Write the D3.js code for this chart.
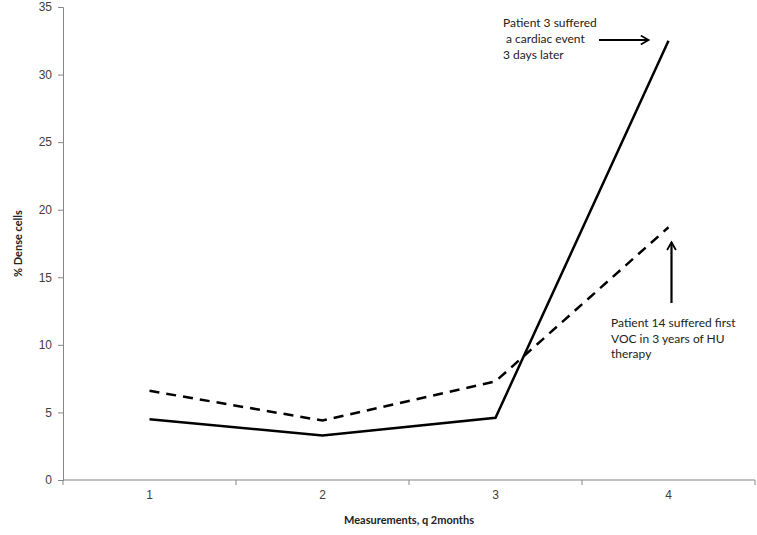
<!DOCTYPE html>
<html lang="en">
<head>
  <meta charset="UTF-8">
  <title>% Dense cells</title>
  <script src="https://d3js.org/d3.v7.min.js"></script>
  <style>
    body { margin: 0; background: #fff; }
    svg { font-family: Lato, "Open Sans", sans-serif; }
    .axis path, .axis line { stroke: #868686; }
    .axis text { fill: #404040; font-size: 12px; }
  </style>
</head>
<body>
  <svg width="757" height="535"></svg>
  <script>
    // data
    const categories = ["1", "2", "3", "4"];
    const patient3 = [4.5, 3.3, 4.6, 32.5];   // solid line
    const patient14 = [6.6, 4.4, 7.3, 18.7];  // dashed line
    const yTicks = [0, 5, 10, 15, 20, 25, 30, 35];
    const note3 = ["Patient 3 suffered", " a cardiac event", "3 days later"];
    const note14 = ["Patient 14 suffered first", "VOC in 3 years of HU", "therapy"];

    const svg = d3.select("svg");
    const margin = { top: 7, right: 2, bottom: 55, left: 63 };
    const width = +svg.attr("width");
    const height = +svg.attr("height");

    const x = d3.scaleBand()
                .domain(categories)
                .range([margin.left, width - margin.right]);
    const y = d3.scaleLinear()
                .domain([0, 35])
                .range([height - margin.bottom, margin.top]);

    // axes
    svg.append("g")
       .attr("class", "axis")
       .attr("transform", `translate(0,${y(0)})`)
       .call(d3.axisBottom(x).tickSize(0).tickPadding(10))
       .call(g => g.select(".domain").attr("d", `M${margin.left},0H${width - margin.right}`));

    // x ticks sit on the band edges
    const edges = categories.map(c => x(c)).concat([x.range()[1]]);
    svg.append("g")
       .selectAll("line")
       .data(edges)
       .join("line")
       .attr("x1", d => d)
       .attr("x2", d => d)
       .attr("y1", y(0))
       .attr("y2", y(0) + 5)
       .attr("stroke", "#868686");

    svg.append("g")
       .attr("class", "axis")
       .attr("transform", `translate(${margin.left},0)`)
       .call(d3.axisLeft(y).tickValues(yTicks).tickSize(5).tickPadding(6));

    // axis titles
    svg.append("text")
       .attr("transform", `translate(22,${(y(0) + y(35)) / 2}) rotate(-90)`)
       .attr("text-anchor", "middle")
       .attr("font-size", 11)
       .attr("font-weight", "bold")
       .attr("fill", "#222")
       .text("% Dense cells");

    svg.append("text")
       .attr("x", (margin.left + width - margin.right) / 2)
       .attr("y", 524)
       .attr("text-anchor", "middle")
       .attr("font-size", 11)
       .attr("font-weight", "bold")
       .attr("fill", "#222")
       .text("Measurements, q 2months");

    // lines
    const line = d3.line()
                   .x((d, i) => x(categories[i]) + x.bandwidth() / 2)
                   .y(d => y(d));

    svg.append("path")
       .datum(patient14)
       .attr("d", line)
       .attr("fill", "none")
       .attr("stroke", "#000")
       .attr("stroke-width", 2.5)
       .attr("stroke-dasharray", "10,7");

    svg.append("path")
       .datum(patient3)
       .attr("d", line)
       .attr("fill", "none")
       .attr("stroke", "#000")
       .attr("stroke-width", 2.5);

    // arrows
    const defs = svg.append("defs");
    defs.append("marker")
        .attr("id", "head")
        .attr("viewBox", "0 0 10 10")
        .attr("refX", 8)
        .attr("refY", 5)
        .attr("markerWidth", 5)
        .attr("markerHeight", 5)
        .attr("orient", "auto")
        .append("path")
        .attr("d", "M1,1L8,5L1,9")
        .attr("fill", "none")
        .attr("stroke", "#000")
        .attr("stroke-width", 1.6);

    const p4x = x("4") + x.bandwidth() / 2;

    svg.append("line")
       .attr("x1", 599).attr("y1", 40)
       .attr("x2", p4x - 20).attr("y2", 40)
       .attr("stroke", "#000")
       .attr("stroke-width", 2.2)
       .attr("marker-end", "url(#head)");

    svg.append("line")
       .attr("x1", p4x + 3).attr("y1", 303)
       .attr("x2", p4x + 3).attr("y2", y(patient14[3]) + 15)
       .attr("stroke", "#000")
       .attr("stroke-width", 2.2)
       .attr("marker-end", "url(#head)");

    // annotations
    svg.append("text")
       .attr("font-size", 12)
       .attr("fill", "#222")
       .selectAll("tspan")
       .data(note3)
       .join("tspan")
       .attr("x", 503)
       .attr("y", (d, i) => 27 + i * 16)
       .attr("xml:space", "preserve")
       .style("white-space", "pre")
       .text(d => d);

    svg.append("text")
       .attr("font-size", 12)
       .attr("fill", "#222")
       .selectAll("tspan")
       .data(note14)
       .join("tspan")
       .attr("x", 611)
       .attr("y", (d, i) => 327 + i * 15.5)
       .text(d => d);
  </script>
</body>
</html>
